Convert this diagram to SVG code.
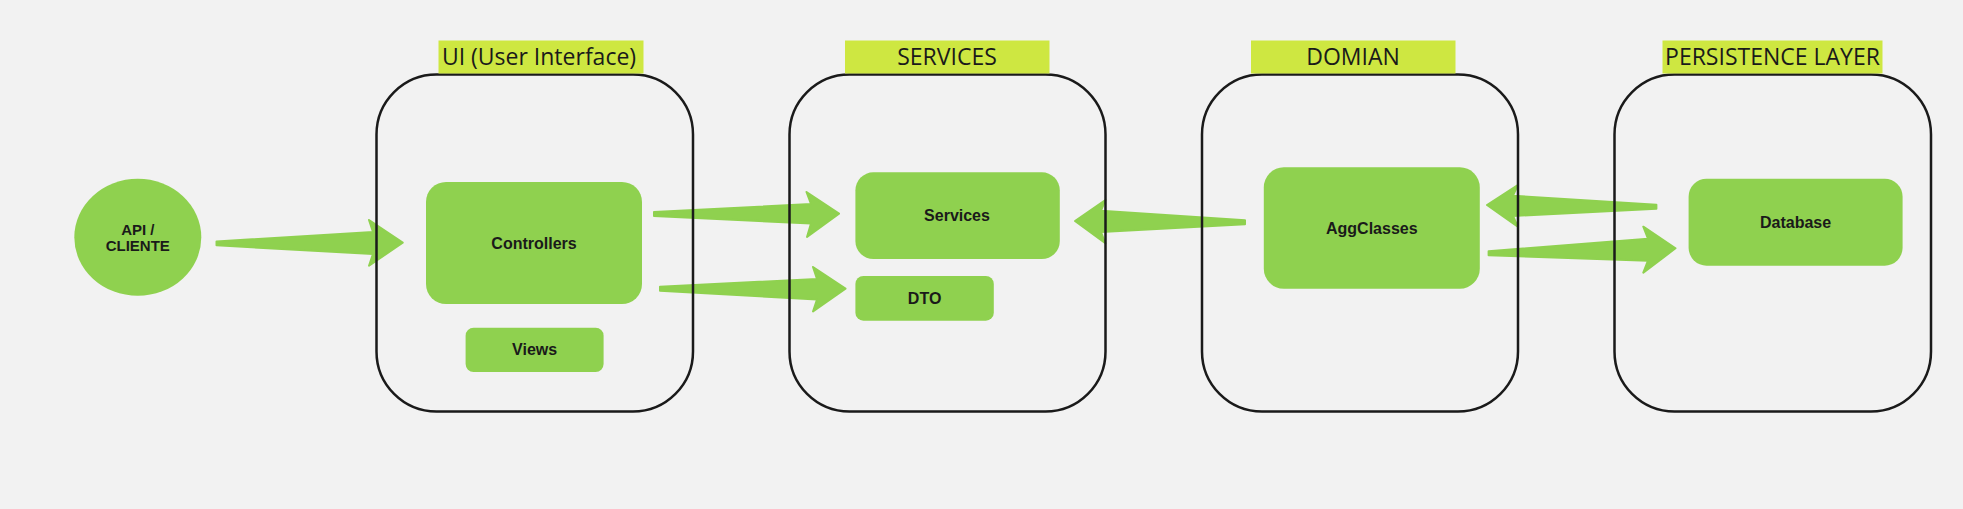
<svg xmlns="http://www.w3.org/2000/svg" width="1963" height="509" viewBox="0 0 1963 509">
<style>
.bg{fill:#f2f2f2}
.layer{fill:none;stroke:#1a1a1a;stroke-width:2.5}
.tag{fill:#cee741}
.tagtext{font-family:"Open Sans","Noto Sans",sans-serif;font-size:23px;fill:#1a1a1a;text-anchor:middle}
.node{fill:#8fd14f}
.label{font-family:"Liberation Sans",Arial,sans-serif;font-weight:bold;font-size:16px;fill:#1a1a1a;text-anchor:middle}
.arrow{fill:#8fd14f;stroke:#8fd14f;stroke-width:2;stroke-linejoin:round}
</style>
<rect class="bg" x="0" y="0" width="1963" height="509"/>
<g id="connectors">
<path class="arrow" d="M216.5,241.5 L373,232 L369,220 L402.7,242.7 L369,265.7 L373,254 L216.5,245.3 Z"/>
<path class="arrow" d="M654,212 L811,204 L806.5,192 L839,213.7 L807,237 L811,223.5 L654,216 Z"/>
<path class="arrow" d="M660,286.7 L817,279 L813,267 L845.5,288.7 L813,311.5 L817,299.5 L660,290.7 Z"/>
<path class="arrow" d="M1245,220.3 L1101,210.7 L1105.4,200 L1075,221 L1105.4,243.3 L1101,232 L1245,224.3 Z"/>
<path class="arrow" d="M1656.4,204.7 L1513,195.7 L1517.8,185 L1487,205 L1517.8,226.7 L1513,216 L1656.4,208.7 Z"/>
<path class="arrow" d="M1488.6,251.3 L1648,238.7 L1643.3,226.7 L1675.5,248.3 L1643.3,272.7 L1648,260.7 L1488.6,255.3 Z"/>
</g>
<g id="layer-ui">
<rect class="layer" x="376.5" y="74.5" width="316.5" height="337" rx="60" ry="60"/>
<rect class="tag" x="438.5" y="40.5" width="205" height="33"/>
<text class="tagtext" x="539" y="65">UI (User Interface)</text>
</g>
<g id="layer-services">
<rect class="layer" x="789.5" y="74.5" width="316" height="337" rx="60" ry="60"/>
<rect class="tag" x="845" y="40.5" width="204.5" height="33"/>
<text class="tagtext" x="947" y="65">SERVICES</text>
</g>
<g id="layer-domain">
<rect class="layer" x="1202" y="74.5" width="316" height="337" rx="60" ry="60"/>
<rect class="tag" x="1251" y="40.5" width="204.5" height="33"/>
<text class="tagtext" x="1353" y="65">DOMIAN</text>
</g>
<g id="layer-persistence">
<rect class="layer" x="1614.5" y="74.5" width="316.5" height="337" rx="60" ry="60"/>
<rect class="tag" x="1662.5" y="40.5" width="220" height="33"/>
<text class="tagtext" x="1772.5" y="65">PERSISTENCE LAYER</text>
</g>
<g id="api-cliente">
<ellipse class="node" cx="137.8" cy="237.3" rx="63.5" ry="58.5"/>
<text class="label" style="font-size:15px" x="137.8" y="234.7">API /</text>
<text class="label" style="font-size:15px" x="137.8" y="251.4">CLIENTE</text>
</g>
<g id="controllers">
<rect class="node" x="426" y="182" width="216" height="122" rx="20" ry="20"/>
<text class="label" x="534" y="249">Controllers</text>
</g>
<g id="views">
<rect class="node" x="465.6" y="327.7" width="138" height="44.3" rx="8" ry="8"/>
<text class="label" x="534.6" y="355.3">Views</text>
</g>
<g id="services">
<rect class="node" x="855.4" y="172.3" width="204.4" height="86.7" rx="18" ry="18"/>
<text class="label" x="957" y="221.2">Services</text>
</g>
<g id="dto">
<rect class="node" x="855.4" y="276" width="138.4" height="44.7" rx="8" ry="8"/>
<text class="label" x="924.6" y="303.9">DTO</text>
</g>
<g id="aggclasses">
<rect class="node" x="1263.8" y="167.3" width="216" height="121.4" rx="20" ry="20"/>
<text class="label" x="1371.8" y="233.6">AggClasses</text>
</g>
<g id="database">
<rect class="node" x="1688.6" y="178.7" width="214" height="87" rx="18" ry="18"/>
<text class="label" x="1795.6" y="228.2">Database</text>
</g>
</svg>
